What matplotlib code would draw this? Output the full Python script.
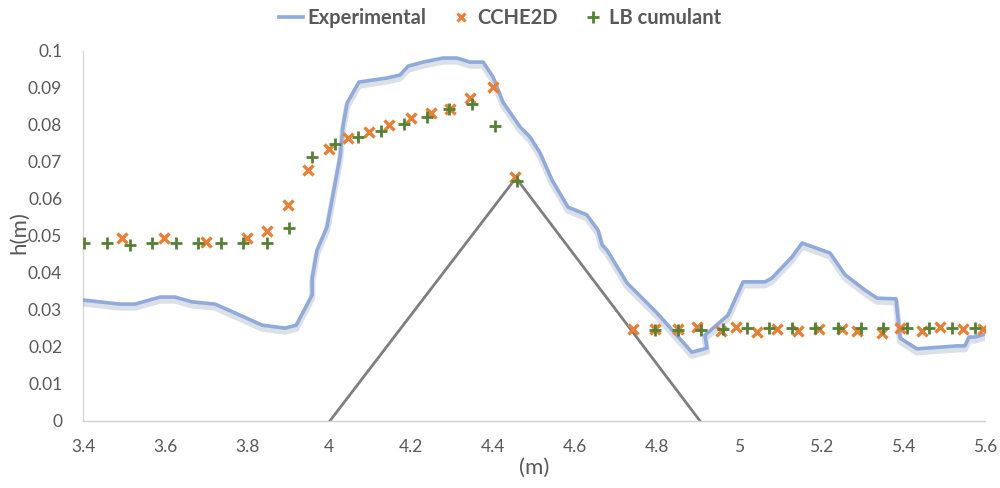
import matplotlib
matplotlib.use("Agg")
import matplotlib.pyplot as plt
import matplotlib.patheffects as pe
from matplotlib.lines import Line2D

plt.rcParams['font.family'] = ['Lato', 'DejaVu Sans']

# Measured free-surface profile
exp_x = [3.400, 3.490, 3.527, 3.588, 3.624, 3.666, 3.722, 3.783, 3.837, 3.893,
         3.920, 3.959, 3.959, 3.971, 3.995, 4.027, 4.034, 4.044, 4.073, 4.141,
         4.173, 4.193, 4.229, 4.278, 4.312, 4.344, 4.376, 4.400, 4.424, 4.466,
         4.490, 4.515, 4.544, 4.583, 4.629, 4.656, 4.666, 4.678, 4.727, 4.800,
         4.885, 4.922, 4.917, 4.973, 5.010, 5.063, 5.080, 5.129, 5.154, 5.222,
         5.259, 5.307, 5.337, 5.383, 5.393, 5.434, 5.532, 5.551, 5.561, 5.576,
         5.600]
exp_h = [0.0327, 0.0316, 0.0316, 0.0335, 0.0335, 0.0322, 0.0316, 0.0286, 0.0259, 0.0251,
         0.0259, 0.0341, 0.0386, 0.0462, 0.0524, 0.0714, 0.0795, 0.0859, 0.0916, 0.0927,
         0.0935, 0.0959, 0.0970, 0.0981, 0.0981, 0.0970, 0.0970, 0.0930, 0.0862, 0.0795,
         0.0768, 0.0724, 0.0651, 0.0578, 0.0557, 0.0516, 0.0476, 0.0462, 0.0373, 0.0292,
         0.0186, 0.0197, 0.0232, 0.0286, 0.0376, 0.0376, 0.0386, 0.0443, 0.0481, 0.0454,
         0.0395, 0.0354, 0.0332, 0.0330, 0.0224, 0.0195, 0.0203, 0.0203, 0.0227, 0.0227,
         0.0235]

# CCHE2D results
cche_x = [3.495, 3.598, 3.700, 3.800, 3.849, 3.900, 3.949, 4.000, 4.046, 4.098,
          4.146, 4.200, 4.249, 4.295, 4.344, 4.400, 4.454,
          4.741, 4.795, 4.851, 4.898, 4.955, 4.992, 5.044, 5.093, 5.144,
          5.195, 5.251, 5.288, 5.349, 5.393, 5.446, 5.490, 5.546, 5.595]
cche_h = [0.0495, 0.0495, 0.0484, 0.0495, 0.0514, 0.0584, 0.0678, 0.0735, 0.0765, 0.0781,
          0.0800, 0.0819, 0.0832, 0.0843, 0.0873, 0.0903, 0.0659,
          0.0249, 0.0249, 0.0249, 0.0254, 0.0243, 0.0254, 0.0240, 0.0249, 0.0243,
          0.0249, 0.0249, 0.0243, 0.0238, 0.0251, 0.0243, 0.0254, 0.0249, 0.0249]

# Lattice Boltzmann (cumulant) results
lb_x = [3.402, 3.458, 3.515, 3.568, 3.627, 3.681, 3.737, 3.790, 3.849, 3.903,
        3.959, 4.015, 4.071, 4.127, 4.183, 4.239, 4.293, 4.349, 4.405, 4.459,
        4.795, 4.851, 4.907, 4.962, 5.019, 5.073, 5.129, 5.185, 5.241, 5.298,
        5.351, 5.410, 5.463, 5.520, 5.576]
lb_h = [0.0481, 0.0481, 0.0476, 0.0481, 0.0481, 0.0481, 0.0481, 0.0481, 0.0481, 0.0522,
        0.0714, 0.0749, 0.0768, 0.0784, 0.0803, 0.0822, 0.0843, 0.0857, 0.0797, 0.0649,
        0.0246, 0.0246, 0.0246, 0.0248, 0.0250, 0.0250, 0.0251, 0.0251, 0.0251, 0.0251,
        0.0251, 0.0251, 0.0251, 0.0251, 0.0251]

# Triangular obstacle outline
obst_x = [4.002, 4.456, 4.905]
obst_h = [0.0, 0.0657, 0.0]

x_ticks = [3.4, 3.6, 3.8, 4.0, 4.2, 4.4, 4.6, 4.8, 5.0, 5.2, 5.4, 5.6]
x_labels = ['3.4', '3.6', '3.8', '4', '4.2', '4.4', '4.6', '4.8', '5', '5.2', '5.4', '5.6']
y_ticks = [0, 0.01, 0.02, 0.03, 0.04, 0.05, 0.06, 0.07, 0.08, 0.09, 0.1]
y_labels = ['0', '0.01', '0.02', '0.03', '0.04', '0.05', '0.06', '0.07', '0.08', '0.09', '0.1']

text_grey = '#595959'
blue = '#8FAADC'
orange = '#ED7D31'
green = '#548235'

fig = plt.figure(figsize=(10, 4.88), dpi=100)
ax = fig.add_axes([0.083, 0.1373, 0.902, 0.7582])

ax.plot(obst_x, obst_h, color='#7F7F7F', lw=2.0, zorder=2)

ax.plot(exp_x, exp_h, color=blue, lw=2.6, zorder=3,
        path_effects=[pe.SimpleLineShadow(offset=(0, -2.5), shadow_color='#9AA4B8',
                                          alpha=0.35, linewidth=4.5),
                      pe.Normal()])

ax.plot(cche_x, cche_h, ls='none', marker='x', ms=6.5, mew=2.4, color=orange, zorder=4)
ax.plot(lb_x, lb_h, ls='none', marker='+', ms=8.5, mew=2.0, color=green, zorder=5)

ax.set_xlim(3.4, 5.6)
ax.set_ylim(0, 0.1)
ax.set_xticks(x_ticks)
ax.set_xticklabels(x_labels)
ax.set_yticks(y_ticks)
ax.set_yticklabels(y_labels)
ax.tick_params(length=0, colors=text_grey, labelsize=12.5)
ax.tick_params(axis='x', pad=13)
ax.tick_params(axis='y', pad=15)

for side in ('top', 'right'):
    ax.spines[side].set_visible(False)
ax.spines['left'].set_color('#D9D9D9')
ax.spines['bottom'].set_color('#D0D0D0')
ax.spines['left'].set_linewidth(1.0)
ax.spines['bottom'].set_linewidth(1.0)

ax.set_ylabel('h(m)', color=text_grey, fontsize=16)
ax.yaxis.set_label_coords(-0.060, 0.51)
ax.set_xlabel('(m)', color=text_grey, fontsize=16, labelpad=2)

handles = [
    Line2D([], [], color=blue, lw=2.6),
    Line2D([], [], ls='none', marker='x', ms=6, mew=2.2, color=orange),
    Line2D([], [], ls='none', marker='+', ms=8, mew=2.0, color=green),
]
leg = fig.legend(handles, ['Experimental', 'CCHE2D', 'LB cumulant'],
                 loc='upper center', bbox_to_anchor=(0.5, 1.02), ncol=3,
                 frameon=False, handlelength=1.2, handletextpad=0.2,
                 columnspacing=1.15,
                 prop={'weight': 'bold', 'size': 14.5})
for t in leg.get_texts():
    t.set_color(text_grey)

fig.savefig('out.png', dpi=100)
